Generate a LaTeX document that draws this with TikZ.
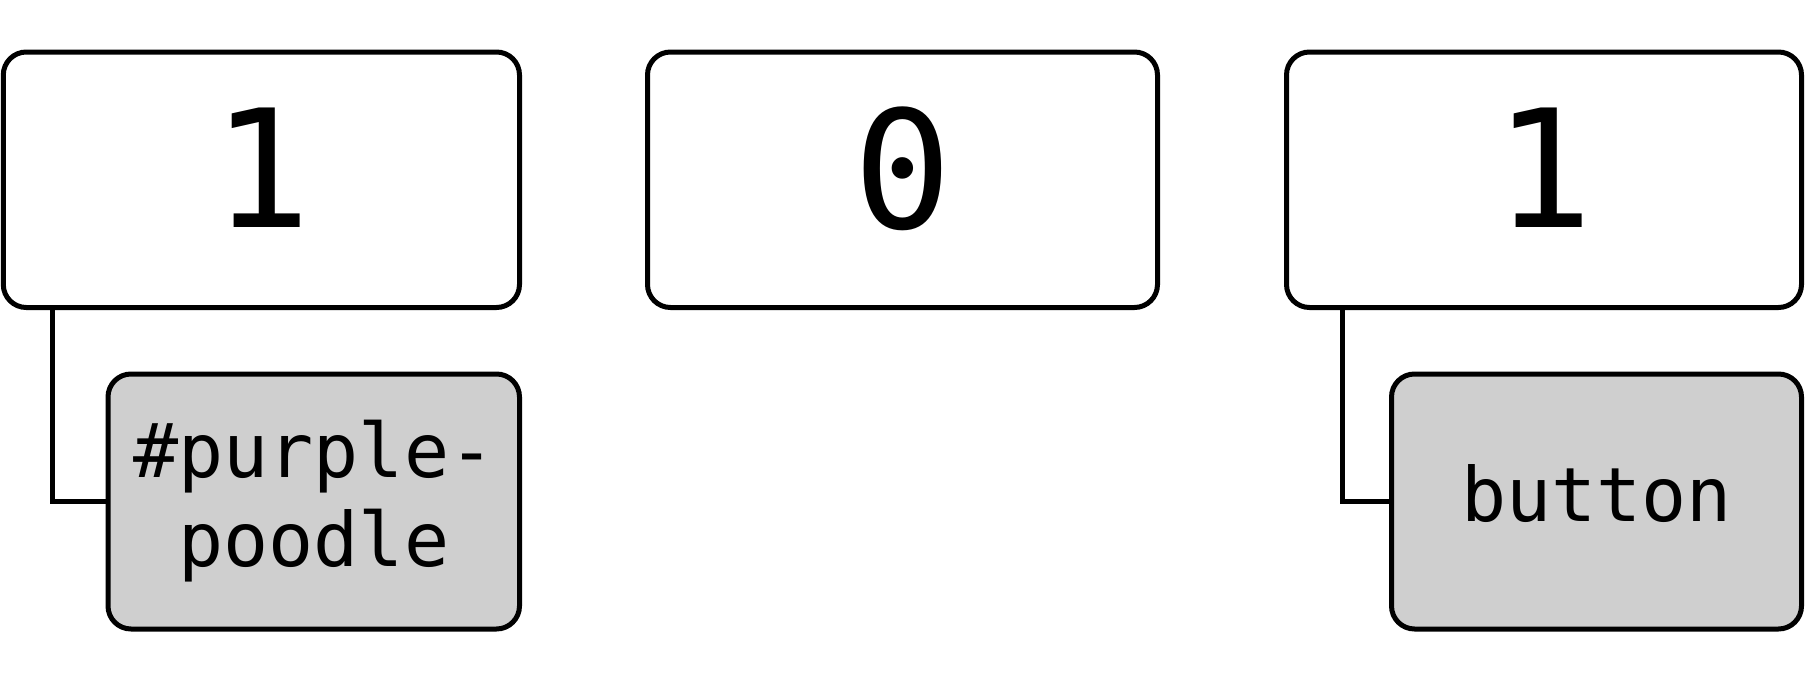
\documentclass[tikz,border=0pt]{standalone}
\usepackage{fontspec}
\setmonofont{DejaVu Sans Mono}
\usetikzlibrary{positioning}
\definecolor{chipgray}{HTML}{CFCFCF}

\begin{document}
\begin{tikzpicture}[x=0.5pt,y=0.5pt,
    bit/.style={draw=black,line width=2.5pt,rounded corners=11.5pt,
        inner sep=0pt,outer sep=0pt,minimum height=127.75pt,text depth=12.5pt,
        font=\ttfamily\fontsize{82}{90}\selectfont},
    tag/.style={bit,fill=chipgray,minimum height=127.5pt,text depth=,
        align=center,font=\ttfamily\fontsize{37.5}{44.5}\selectfont}]

\useasboundingbox (0,0) rectangle (1805,677);

\node[bit,minimum width=258.1pt] (B1) at (261.4,497.25) {1};
\node[bit,minimum width=255pt] (B2) at (902.5,497.25) {0};
\node[bit,minimum width=257.5pt] (B3) at (1544,497.25) {1};

\node[tag,minimum width=205.75pt] (T1) at (313.75,175.5) {\#purple-\\poodle};
\node[tag,minimum width=205pt,text depth=8pt] (T3) at (1596.5,175.5) {button};

\coordinate (K1) at ([xshift=24.6pt]B1.south west);
\coordinate (K3) at ([xshift=28pt]B3.south west);

\draw [line width=2.5pt] (K1) |- (T1.west);
\draw [line width=2.5pt] (K3) |- (T3.west);
\end{tikzpicture}
\end{document}
